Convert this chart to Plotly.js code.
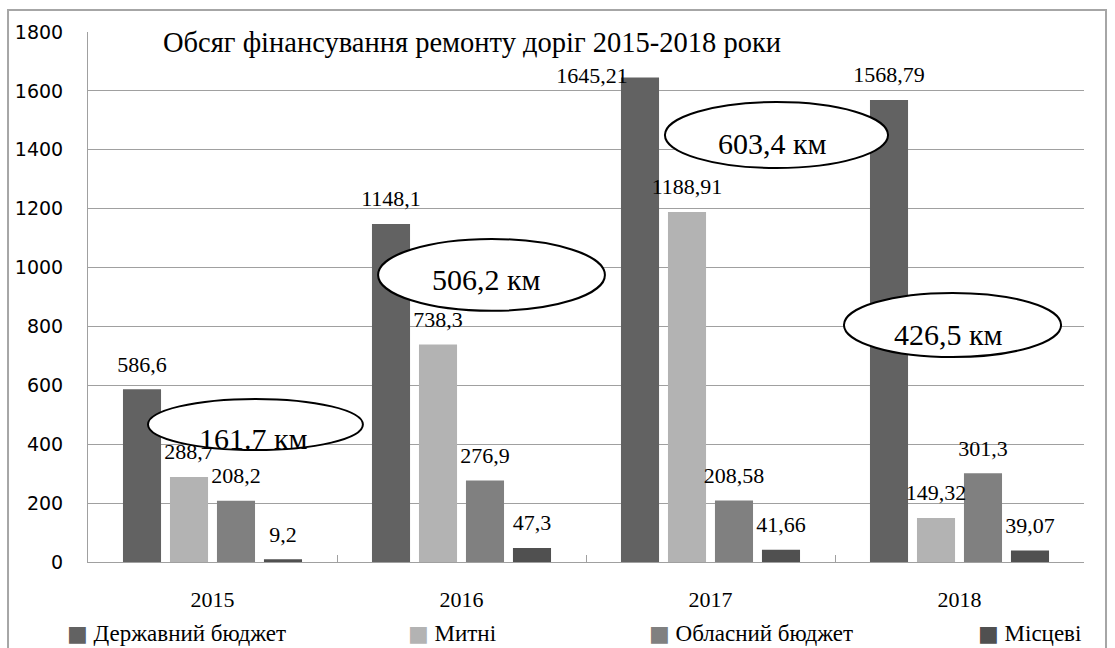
<!DOCTYPE html>
<html>
<head>
<meta charset="utf-8">
<script src="https://cdn.plot.ly/plotly-3.0.1.min.js"></script>
<style>html,body{margin:0;padding:0;background:#fff;}#chart{width:1115px;height:648px;}</style>
</head>
<body>
<div id="chart"></div>
<script>
// ---- data ----
const categories = ['2015', '2016', '2017', '2018'];
const seriesNames = ['Державний бюджет', 'Митні', 'Обласний бюджет', 'Місцеві'];
const derzhavnyi = [586.6, 1148.1, 1645.21, 1568.79];
const mytni = [288.7, 738.3, 1188.91, 149.32];
const oblasnyi = [208.2, 276.9, 208.58, 301.3];
const mistsevi = [9.2, 47.3, 41.66, 39.07];
const roadKm = ['161.7 км', '506,2 км', '603,4 км', '426,5 км'];

// ---- styles ----
const colors = ['#626262', '#b3b3b3', '#808080', '#505050'];
const serif = 'Liberation Serif';
const sans = 'DejaVu Sans';
const seriesValues = [derzhavnyi, mytni, oblasnyi, mistsevi];

function fmt(v) { return String(v).replace('.', ','); }

const traces = [];
seriesValues.forEach((vals, i) => {
  traces.push({
    type: 'bar', name: seriesNames[i], x: categories, y: vals,
    marker: {color: colors[i]}, showlegend: false, hoverinfo: 'skip'
  });
});
seriesValues.forEach((vals, i) => {
  traces.push({
    type: 'scatter', mode: 'markers+text', x: categories, y: vals,
    text: vals.map(fmt),
    textposition: vals.map((v, j) => (i === 0 && j === 2) ? 'middle left' : 'top center'),
    textfont: {family: serif, size: 22, color: '#000'},
    marker: {size: 18, color: 'rgba(0,0,0,0)'},
    showlegend: false, hoverinfo: 'skip', cliponaxis: false
  });
});

// ellipses (km labels) in axis coordinates
const ellipses = [
  {x0: -0.259, x1: 0.604, y0: 380, y1: 554, tx: 0.165, ty: 421},
  {x0: 0.665, x1: 1.576, y0: 853, y1: 1097, tx: 1.100, ty: 961},
  {x0: 1.817, x1: 2.713, y0: 1338, y1: 1562, tx: 2.249, ty: 1423},
  {x0: 2.536, x1: 3.408, y0: 696, y1: 914, tx: 2.956, ty: 772}
];
const shapes = [{
  type: 'rect', xref: 'paper', yref: 'paper', x0: -0.0803, x1: 1.0221, y0: -0.25, y1: 1.0415,
  line: {color: '#a6a6a6', width: 2}, fillcolor: 'rgba(0,0,0,0)', layer: 'below'
}];
const annotations = [];
ellipses.forEach((e, k) => {
  shapes.push({type: 'circle', xref: 'x', yref: 'y', x0: e.x0, x1: e.x1, y0: e.y0, y1: e.y1,
    line: {color: '#000', width: 2}, fillcolor: '#fff', layer: 'above'});
  annotations.push({xref: 'x', yref: 'y', x: e.tx, y: e.ty, text: roadKm[k], showarrow: false,
    font: {family: serif, size: 30, color: '#000'}});
});

// legend as text entries
const legendX = [-0.0231, 0.3193, 0.5613, 0.8916];
seriesNames.forEach((n, i) => {
  annotations.push({xref: 'paper', yref: 'paper', x: legendX[i], y: -0.1340, xanchor: 'left', yanchor: 'middle',
    text: '<span style="color:' + colors[i] + ';font-family:DejaVu Sans;font-size:22px">■</span> ' + n, showarrow: false,
    font: {family: serif, size: 23, color: '#000'}});
});

const layout = {
  width: 1115, height: 648,
  margin: {l: 88, r: 31, t: 32, b: 86},
  paper_bgcolor: '#fff', plot_bgcolor: '#fff',
  font: {family: serif},
  barmode: 'group', bargap: 0.245, bargroupgap: 0.19,
  scattermode: 'group', scattergap: 0.245,
  showlegend: false,
  title: {text: 'Обсяг фінансування ремонту доріг 2015-2018 роки',
    font: {family: serif, size: 28.5, color: '#000'},
    xref: 'paper', yref: 'paper', x: 0.0753, xanchor: 'left', y: 0.999, yanchor: 'top',
    pad: {t: 0, b: 0, l: 0, r: 0}},
  xaxis: {type: 'category', showline: true, linecolor: '#a0a0a0', linewidth: 1,
    ticks: 'inside', ticklen: 7, tickcolor: '#a0a0a0', tickson: 'boundaries',
    tickfont: {family: serif, size: 22, color: '#000'}, ticklabelstandoff: 18,
    showgrid: false, fixedrange: true},
  yaxis: {range: [0, 1800], dtick: 200, tick0: 0, showline: true, linecolor: '#a0a0a0', linewidth: 1,
    gridcolor: '#a0a0a0', gridwidth: 1, zeroline: false, ticks: '',
    tickfont: {family: sans, size: 19, color: '#000'}, ticklabelstandoff: 20, fixedrange: true},
  shapes: shapes,
  annotations: annotations
};

Plotly.newPlot('chart', traces, layout, {staticPlot: true});
</script>
</body>
</html>
